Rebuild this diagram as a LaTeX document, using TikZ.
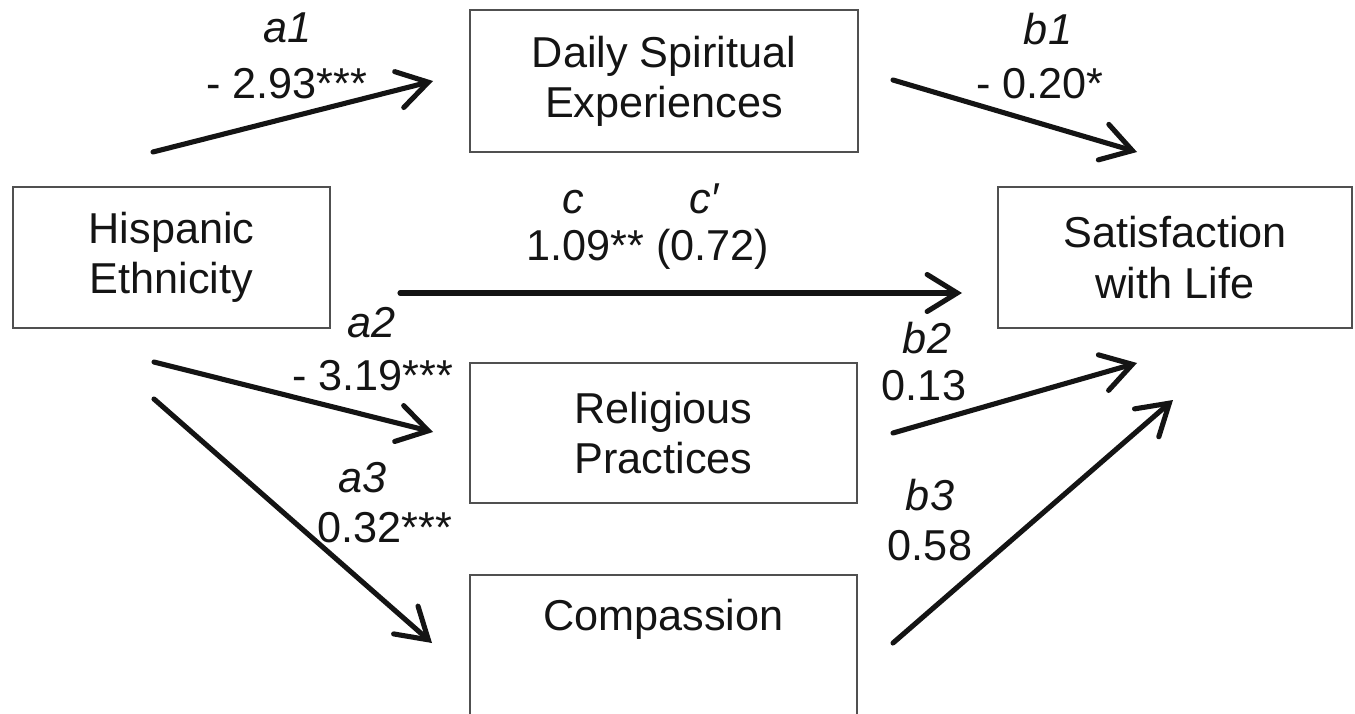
\documentclass[tikz,border=0pt]{standalone}
\usepackage{fontspec}
\setmainfont{Liberation Sans}
\usetikzlibrary{arrows.meta}
\definecolor{boxgray}{HTML}{505050}
\definecolor{arrowblack}{HTML}{141414}
\definecolor{txt}{HTML}{141414}
\begin{document}
\begin{tikzpicture}[x=0.02cm,y=-0.02cm,
  box/.style={draw=boxgray, line width=1.4pt, inner sep=0pt, align=center, text=txt,
    font=\fontsize{24.6}{28.6}\selectfont},
  lbl/.style={anchor=base, inner sep=0pt, text=txt, font=\fontsize{24.6}{28.6}\selectfont},
  ilbl/.style={anchor=base, inner sep=0pt, text=txt, font=\fontsize{24.6}{28.6}\selectfont\itshape},
  conn/.style={draw=arrowblack, line width=2.9pt, line cap=round,
    -{Straight Barb[length=0.6cm,width=0.74cm,line cap=round]}}
]
\useasboundingbox (0,0) rectangle (1355,713);

% boxes
\node[box, minimum width=6.34cm, minimum height=2.82cm] (hisp) at (171.5,257.5) {Hispanic\\Ethnicity};
\node[box, minimum width=7.08cm, minimum height=2.82cm] (sat) at (1175,257.5) {Satisfaction\\with Life};
\node[box, minimum width=7.76cm, minimum height=2.84cm] (dse) at (664,81) {Daily Spiritual\\Experiences};
\node[box, minimum width=7.74cm, minimum height=2.80cm] (rel) at (663.5,433) {Religious\\Practices};
\node[box, minimum width=7.74cm, minimum height=3.10cm] (comp) at (663.5,652.5) {};
\node[lbl] (comptxt) at (663.5,630) {Compassion};

% arrow end points
\coordinate (a1s) at (153,152);  \coordinate (a1e) at (433,81);
\coordinate (b1s) at (893,80);   \coordinate (b1e) at (1137,152);
\coordinate (cs)  at (400,293);  \coordinate (ce)  at (962,293);
\coordinate (a2s) at (154,362);  \coordinate (a2e) at (433,432);
\coordinate (a3s) at (154,399);  \coordinate (a3e) at (432,643);
\coordinate (b2s) at (893,433);  \coordinate (b2e) at (1137,363);
\coordinate (b3s) at (893,643);  \coordinate (b3e) at (1173,400);

\draw[conn] (a1s) -- (a1e);
\draw[conn] (b1s) -- (b1e);
\draw[conn] (cs) -- (ce);
\draw[conn] (a2s) -- (a2e);
\draw[conn] (a3s) -- (a3e);
\draw[conn] (b2s) -- (b2e);
\draw[conn] (b3s) -- (b3e);

% labels
\node[ilbl] (la1) at (288,43) {a1};
\node[lbl]  (va1) at (287,99) {- 2.93***};
\node[ilbl] (lb1) at (1048,45) {b1};
\node[lbl]  (vb1) at (1040,99) {- 0.20*};
\node[ilbl] (lc)  at (573,213) {c};
\node[ilbl] (lcp) at (704,213) {c′};
\node[lbl]  (vc)  at (648,260) {1.09** (0.72)};
\node[ilbl] (la2) at (372,337) {a2};
\node[lbl]  (va2) at (373,390) {- 3.19***};
\node[ilbl] (la3) at (363,492) {a3};
\node[lbl]  (va3) at (385,542) {0.32***};
\node[ilbl] (lb2) at (927,353) {b2};
\node[lbl]  (vb2) at (924,400) {0.13};
\node[ilbl] (lb3) at (930,510) {b3};
\node[lbl]  (vb3) at (930,560) {0.58};
\end{tikzpicture}
\end{document}
